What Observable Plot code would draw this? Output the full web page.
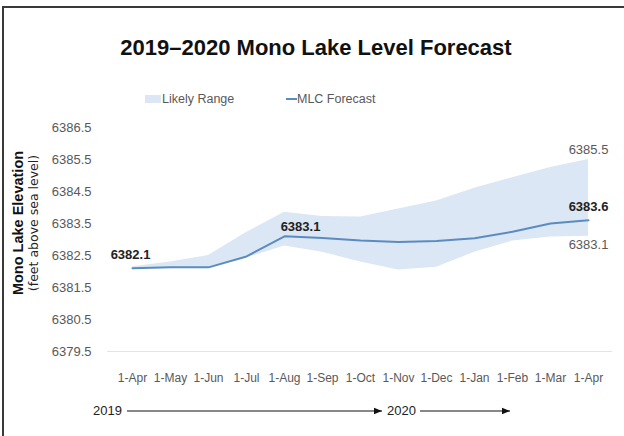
<!DOCTYPE html>
<html>
<head>
<meta charset="utf-8">
<script src="https://cdn.jsdelivr.net/npm/d3@7"></script>
<script src="https://cdn.jsdelivr.net/npm/@observablehq/plot@0.6"></script>
<style>
  html, body { margin: 0; padding: 0; background: #fff; }
  #wrap { position: relative; width: 624px; height: 436px; overflow: hidden; background: #fff; }
  #frame { position: absolute; left: 2px; top: 6px; width: 700px; height: 500px; border-left: 2px solid #3a3a3a; border-top: 2px solid #3a3a3a; }
  #plot { position: absolute; left: 0; top: 110px; }
  #deco { position: absolute; left: 0; top: 0; }
</style>
</head>
<body>
<div id="wrap">
  <div id="frame"></div>
  <div id="plot"></div>
  <svg id="deco" width="624" height="436"></svg>
</div>
<script>
// ---- data ----
const months = ["1-Apr","1-May","1-Jun","1-Jul","1-Aug","1-Sep","1-Oct","1-Nov","1-Dec","1-Jan","1-Feb","1-Mar","1-Apr"];
const forecast = [6382.1, 6382.13, 6382.13, 6382.47, 6383.1, 6383.05, 6382.97, 6382.92, 6382.95, 6383.04, 6383.24, 6383.5, 6383.6];
const rangeHigh = [6382.15, 6382.3, 6382.5, 6383.22, 6383.85, 6383.72, 6383.7, 6383.95, 6384.2, 6384.6, 6384.93, 6385.25, 6385.5];
const rangeLow  = [6382.1, 6382.1, 6382.1, 6382.42, 6382.8, 6382.6, 6382.3, 6382.05, 6382.13, 6382.6, 6382.95, 6383.08, 6383.1];
const yTicks = [6379.5, 6380.5, 6381.5, 6382.5, 6383.5, 6384.5, 6385.5, 6386.5];
const title = "2019–2020 Mono Lake Level Forecast";
const legendLabels = ["Likely Range", "MLC Forecast"];
const yTitle = "Mono Lake Elevation";
const ySubtitle = "(feet above sea level)";
const years = ["2019", "2020"];

const bandColor = "#dbe7f4";
const lineColor = "#5a8cc0";
const narrow = "'Liberation Sans Narrow', 'Arial Narrow', sans-serif";

const data = months.map((m, i) => ({i, month: m, mid: forecast[i], low: rangeLow[i], high: rangeHigh[i]}));
const last = data.length - 1;

const chart = Plot.plot({
  width: 624,
  height: 280,
  marginLeft: 107,
  marginRight: 12,
  marginTop: 17,
  marginBottom: 39,
  style: { fontFamily: narrow, fontSize: "13px", color: "#595959", background: "transparent" },
  x: { type: "point", domain: d3.range(months.length), padding: 0, insetLeft: 20, insetRight: 20 },
  y: { domain: [6379.5, 6386.5] },
  marks: [
    Plot.ruleY([6379.5], { stroke: "#e3e3e3", strokeWidth: 1 }),
    Plot.areaY(data, { x: "i", y1: "low", y2: "high", fill: bandColor, curve: "linear" }),
    Plot.lineY(data, { x: "i", y: "mid", stroke: lineColor, strokeWidth: 2 }),
    Plot.axisY({ ticks: yTicks, tickSize: 0, tickPadding: 16, tickFormat: d => d.toFixed(1), fill: "#595959", label: null }),
    Plot.axisX({ tickSize: 0, tickPadding: 22, tickFormat: i => months[i], fill: "#595959", label: null, fontSize: 12 }),
    Plot.text([data[0]], { x: "i", y: "mid", text: d => d.mid.toFixed(1), dx: -2, dy: -13, fontWeight: "bold", fill: "#222", fontSize: 13 }),
    Plot.text([data[4]], { x: "i", y: "mid", text: d => d.mid.toFixed(1), dx: 16, dy: -9, fontWeight: "bold", fill: "#222", fontSize: 13 }),
    Plot.text([data[last]], { x: "i", y: "mid", text: d => d.mid.toFixed(1), dx: 0, dy: -13, fontWeight: "bold", fill: "#222", fontSize: 13 }),
    Plot.text([data[last]], { x: "i", y: "high", text: d => d.high.toFixed(1), dx: 0, dy: -10, fill: "#595959", fontSize: 13 }),
    Plot.text([data[last]], { x: "i", y: "low", text: d => d.low.toFixed(1), dx: 0, dy: 9, fill: "#595959", fontSize: 13 })
  ]
});
document.getElementById("plot").appendChild(chart);

// ---- decorations: title, legend, axis title, year arrows ----
const deco = d3.select("#deco");
const defs = deco.append("defs");
defs.append("marker").attr("id", "ah").attr("viewBox", "0 0 10 10").attr("refX", 10).attr("refY", 5)
  .attr("markerWidth", 8).attr("markerHeight", 8).attr("markerUnits", "userSpaceOnUse").attr("orient", "auto")
  .append("path").attr("d", "M0,1 L10,5 L0,9 Z").attr("fill", "#111");

deco.append("text").attr("x", 316).attr("y", 55).attr("text-anchor", "middle")
  .attr("font-family", "'Liberation Sans', Arial, sans-serif").attr("font-weight", "bold").attr("font-size", 22)
  .attr("fill", "#111").text(title);

// legend
deco.append("rect").attr("x", 145).attr("y", 95).attr("width", 16).attr("height", 8).attr("fill", bandColor);
deco.append("text").attr("x", 162).attr("y", 103).attr("font-family", narrow).attr("font-size", 12.5).attr("fill", "#595959").text(legendLabels[0]);
deco.append("line").attr("x1", 286).attr("x2", 297).attr("y1", 99).attr("y2", 99).attr("stroke", lineColor).attr("stroke-width", 2);
deco.append("text").attr("x", 297).attr("y", 103).attr("font-family", narrow).attr("font-size", 12.5).attr("fill", "#595959").text(legendLabels[1]);

// y-axis title
const yt = deco.append("g").attr("transform", "translate(23,223) rotate(-90)");
yt.append("text").attr("text-anchor", "middle").attr("font-family", "'Liberation Sans', Arial, sans-serif")
  .attr("font-weight", "bold").attr("font-size", 14.5).attr("fill", "#111").text(yTitle);
yt.append("text").attr("y", 15).attr("text-anchor", "middle").attr("font-family", "'DejaVu Sans', Verdana, sans-serif")
  .attr("font-size", 12.5).attr("fill", "#222").text(ySubtitle);

// year arrows
deco.append("text").attr("x", 93).attr("y", 415).attr("font-family", narrow).attr("font-size", 13).attr("fill", "#222").text(years[0]);
deco.append("line").attr("x1", 127).attr("x2", 382).attr("y1", 411).attr("y2", 411).attr("stroke", "#111").attr("stroke-width", 1).attr("marker-end", "url(#ah)");
deco.append("text").attr("x", 387).attr("y", 415).attr("font-family", narrow).attr("font-size", 13).attr("fill", "#222").text(years[1]);
deco.append("line").attr("x1", 420).attr("x2", 510).attr("y1", 411).attr("y2", 411).attr("stroke", "#111").attr("stroke-width", 1).attr("marker-end", "url(#ah)");
</script>
</body>
</html>
